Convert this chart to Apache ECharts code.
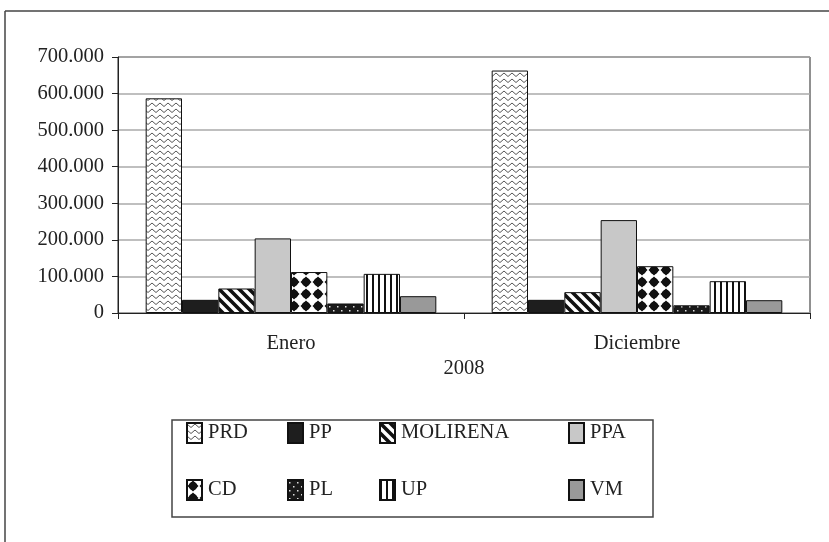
<!DOCTYPE html>
<html>
<head>
<meta charset="utf-8">
<script src="https://cdn.jsdelivr.net/npm/echarts@6/dist/echarts.min.js"></script>
<style>
  html, body { margin: 0; padding: 0; background: #fff; }
  #chart { width: 829px; height: 542px; }
</style>
</head>
<body>
<div id="chart"></div>
<script>
// data
var months = ['Enero', 'Diciembre'];
var yearLabel = '2008';
var parties = ['PRD', 'PP', 'MOLIRENA', 'PPA', 'CD', 'PL', 'UP', 'VM'];
var PRD = [587000, 663000];
var PP = [36000, 36000];
var MOLIRENA = [67000, 57000];
var PPA = [204000, 254000];
var CD = [112000, 128000];
var PL = [26000, 21000];
var UP = [107000, 87000];
var VM = [46000, 35000];
var yTicks = [0, 100000, 200000, 300000, 400000, 500000, 600000, 700000];

var values = { PRD: PRD, PP: PP, MOLIRENA: MOLIRENA, PPA: PPA, CD: CD, PL: PL, UP: UP, VM: VM };

// pattern tiles
function tile(w, h, draw) {
  var c = document.createElement('canvas');
  c.width = w; c.height = h;
  var ctx = c.getContext('2d');
  draw(ctx, w, h);
  return { image: c, repeat: 'repeat' };
}
var fills = {
  PRD: tile(8, 6, function (ctx, w, h) {
    ctx.fillStyle = '#fff'; ctx.fillRect(0, 0, w, h);
    ctx.strokeStyle = '#555'; ctx.lineWidth = 1;
    ctx.beginPath();
    ctx.moveTo(0, 1); ctx.lineTo(4, 4.5); ctx.lineTo(8, 1);
    ctx.stroke();
  }),
  PP: '#1e1e1e',
  MOLIRENA: tile(10, 10, function (ctx, w, h) {
    ctx.fillStyle = '#fff'; ctx.fillRect(0, 0, w, h);
    ctx.strokeStyle = '#111'; ctx.lineWidth = 3.6;
    ctx.beginPath();
    ctx.moveTo(-2, -2); ctx.lineTo(12, 12);
    ctx.moveTo(-12, -2); ctx.lineTo(2, 12);
    ctx.moveTo(8, -2); ctx.lineTo(22, 12);
    ctx.stroke();
  }),
  PPA: '#c8c8c8',
  CD: tile(12, 12, function (ctx, w, h) {
    ctx.fillStyle = '#fff'; ctx.fillRect(0, 0, w, h);
    ctx.fillStyle = '#111';
    ctx.beginPath();
    ctx.moveTo(6, 0.5); ctx.lineTo(11.5, 6); ctx.lineTo(6, 11.5); ctx.lineTo(0.5, 6);
    ctx.closePath(); ctx.fill();
    ctx.beginPath(); ctx.arc(6, 6, 4.2, 0, Math.PI * 2); ctx.fill();
  }),
  PL: tile(8, 8, function (ctx, w, h) {
    ctx.fillStyle = '#1a1a1a'; ctx.fillRect(0, 0, w, h);
    ctx.fillStyle = '#ddd';
    ctx.fillRect(1, 2, 1.5, 1.5);
    ctx.fillRect(5, 6, 1.5, 1.5);
  }),
  UP: tile(6, 4, function (ctx, w, h) {
    ctx.fillStyle = '#fff'; ctx.fillRect(0, 0, w, h);
    ctx.fillStyle = '#111'; ctx.fillRect(0, 0, 2, h);
  }),
  VM: '#999999'
};

var series = parties.map(function (p) {
  return {
    name: p,
    type: 'bar',
    data: values[p],
    barGap: '0%',
    barCategoryGap: '16%',
    itemStyle: { color: fills[p], borderColor: '#111', borderWidth: 1 }
  };
});

var font = 'Liberation Serif';
var fs = 20.5;
var legendCols = [['PRD', 'CD'], ['PP', 'PL'], ['MOLIRENA', 'UP'], ['PPA', 'VM']];
var legendLeft = [186, 287, 379, 568];
var legends = legendCols.map(function (col, i) {
  return {
    data: col,
    orient: 'vertical',
    left: legendLeft[i],
    top: 422,
    padding: 0,
    itemGap: 35,
    itemWidth: 15,
    itemHeight: 20,
    icon: 'rect',
    selectedMode: false,
    textStyle: { fontFamily: font, fontSize: fs, color: '#222', padding: [0, 0, 0, 1] }
  };
});

var chart = echarts.init(document.getElementById('chart'));
chart.setOption({
  animation: false,
  backgroundColor: '#fff',
  textStyle: { fontFamily: font },
  grid: { left: 118, right: 19, top: 57, bottom: 229, show: true, borderColor: '#222', borderWidth: 1 },
  legend: legends,
  xAxis: {
    type: 'category',
    data: months,
    name: yearLabel,
    nameLocation: 'middle',
    nameGap: 45,
    nameTextStyle: { fontFamily: font, fontSize: fs, color: '#222' },
    axisLine: { lineStyle: { color: '#222', width: 1 } },
    axisTick: { show: true, length: 6, lineStyle: { color: '#222' } },
    axisLabel: { fontFamily: font, fontSize: fs, color: '#222', margin: 20 }
  },
  yAxis: {
    type: 'value',
    min: yTicks[0],
    max: yTicks[yTicks.length - 1],
    interval: 100000,
    axisLine: { show: true, lineStyle: { color: '#222', width: 1 } },
    axisTick: { show: true, length: 6, lineStyle: { color: '#222' } },
    splitLine: { show: true, lineStyle: { color: '#aaa', width: 1.5 } },
    axisLabel: {
      fontFamily: font, fontSize: fs, color: '#222', margin: 14,
      formatter: function (v) { return String(v).replace(/\B(?=(\d{3})+(?!\d))/g, '.'); }
    }
  },
  graphic: [
    { type: 'line', shape: { x1: 5, y1: 11, x2: 829, y2: 11 }, style: { stroke: '#444', lineWidth: 1.5 } },
    { type: 'line', shape: { x1: 5, y1: 11, x2: 5, y2: 542 }, style: { stroke: '#444', lineWidth: 1.5 } },
    { type: 'rect', shape: { x: 172, y: 420, width: 481, height: 97 }, style: { fill: 'none', stroke: '#444', lineWidth: 1.5 } }
  ],
  series: series
});
</script>
</body>
</html>
